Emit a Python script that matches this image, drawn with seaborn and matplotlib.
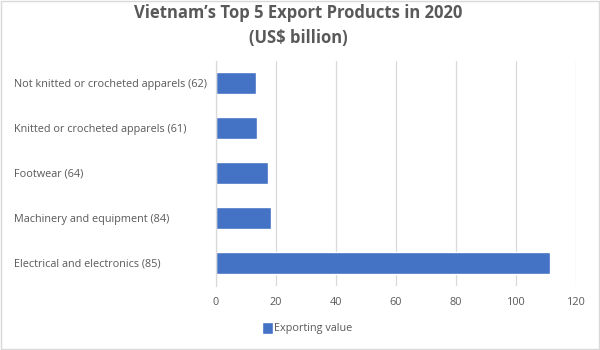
import matplotlib
matplotlib.use("Agg")
import matplotlib.pyplot as plt
import seaborn as sns
import pandas as pd
from matplotlib.patches import Rectangle

categories = [
    "Not knitted or crocheted apparels (62)",
    "Knitted or crocheted apparels (61)",
    "Footwear (64)",
    "Machinery and equipment (84)",
    "Electrical and electronics (85)",
]
values = [13.3, 13.8, 17.3, 18.4, 111.2]
x_ticks = [0, 20, 40, 60, 80, 100, 120]
series_name = "Exporting value"

df = pd.DataFrame({"Product": categories, "Value": values})

sns.set_theme(style="white")
plt.rcParams["font.family"] = ["Open Sans", "DejaVu Sans"]

text_color = "#595959"
bar_color = "#4472C4"
grid_color = "#d9d9d9"

fig = plt.figure(figsize=(6, 3.5), dpi=100)
ax = fig.add_axes([216 / 600, 1 - 285.5 / 350, 360 / 600, 225 / 350])

sns.barplot(data=df, x="Value", y="Product", orient="h", color=bar_color,
            width=0.49, saturation=1, ax=ax, label=series_name, legend=False)
if ax.get_legend() is not None:
    ax.get_legend().remove()

ax.set_xlim(0, 120)
ax.set_ylim(4.5, -0.5)
ax.set_xticks(x_ticks)
ax.set_xticklabels([str(t) for t in x_ticks], color=text_color, fontsize=7.8)
# left-aligned category labels starting near the left edge of the figure
ax.tick_params(axis="y", labelsize=7.8, labelcolor=text_color, length=0,
               pad=(216 - 14) * 0.72)
for lbl in ax.get_yticklabels():
    lbl.set_horizontalalignment("left")
ax.tick_params(axis="x", length=0, pad=8)
ax.set_xlabel("")
ax.set_ylabel("")
ax.grid(axis="x", color=grid_color, linewidth=0.9)
ax.set_axisbelow(True)
for side in ["top", "right", "bottom"]:
    ax.spines[side].set_visible(False)
ax.spines["left"].set_color(grid_color)
ax.spines["left"].set_linewidth(0.9)

fig.suptitle("Vietnam\u2019s Top 5 Export Products in 2020\n(US$ billion)",
             x=0.497, y=0.988, fontsize=12, fontweight="bold", color=text_color,
             linespacing=1.45)

handle = Rectangle((0, 0), 1, 1, facecolor=bar_color)
leg = fig.legend([handle], [series_name], loc="center",
                 bbox_to_anchor=(307 / 600, 1 - 328 / 350),
                 frameon=False, fontsize=7.8, handlelength=1.0, handleheight=1.3,
                 handletextpad=0.1)
for t in leg.get_texts():
    t.set_color(text_color)

fig.patches.append(Rectangle((0.002, 0.003), 0.996, 0.994, transform=fig.transFigure,
                             fill=False, edgecolor="#d9d9d9", linewidth=1))

fig.savefig("out.png", dpi=100, facecolor="white")
